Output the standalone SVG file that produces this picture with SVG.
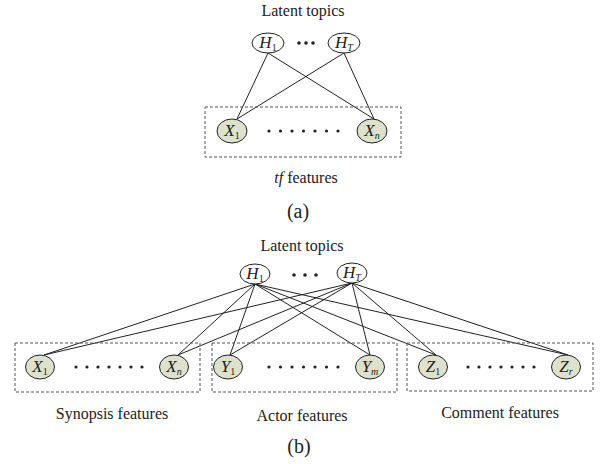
<svg xmlns="http://www.w3.org/2000/svg" width="602" height="464" viewBox="0 0 602 464">
<style>
text{font-family:"Liberation Serif","Times New Roman",serif;fill:#222;}
.lbl{font-size:16px;text-anchor:middle;}
.cap{font-size:20px;text-anchor:middle;}
.nl{font-size:17px;text-anchor:middle;}
.it{font-style:italic;}
.sub{font-size:10px;}
.hid{fill:#fff;stroke:#222;stroke-width:1;}
.obs{fill:#dee2cd;stroke:#222;stroke-width:1;}
.box{fill:none;stroke:#555;stroke-width:1;stroke-dasharray:3 2;}
.edge line{stroke:#222;stroke-width:1;}
.dot{fill:#222;}
</style>
<rect width="602" height="464" fill="#fff"/>

<!-- (a) -->
<text class="lbl" x="303" y="16">Latent topics</text>
<g id="edges-a" class="edge">
<line x1="268" y1="53" x2="237" y2="119"/>
<line x1="268" y1="53" x2="374" y2="119"/>
<line x1="344" y1="53" x2="237" y2="119"/>
<line x1="344" y1="53" x2="374" y2="119"/>
</g>
<g id="a-H1"><ellipse class="hid" cx="268" cy="43" rx="16" ry="10"/><text class="nl" x="268" y="48"><tspan class="it">H</tspan><tspan class="sub" dy="3">1</tspan></text></g>
<g id="a-HT"><ellipse class="hid" cx="344" cy="43" rx="16" ry="10"/><text class="nl" x="344" y="48"><tspan class="it">H</tspan><tspan class="sub it" dy="3">T</tspan></text></g>
<g id="a-hdots" class="dot"><circle cx="299" cy="43" r="1.8"/><circle cx="306" cy="43" r="1.8"/><circle cx="313" cy="43" r="1.8"/></g>
<g id="a-tf">
<rect class="box" x="205" y="107" width="196" height="50"/>
<g id="a-X1"><ellipse class="obs" cx="232" cy="131" rx="15" ry="12"/><text class="nl" x="232" y="136"><tspan class="it">X</tspan><tspan class="sub" dy="3">1</tspan></text></g>
<g id="a-Xn"><ellipse class="obs" cx="372" cy="131" rx="15" ry="12"/><text class="nl" x="372" y="136"><tspan class="it">X</tspan><tspan class="sub it" dy="3">n</tspan></text></g>
<g class="dot"><circle cx="269" cy="131" r="1.6"/><circle cx="280.5" cy="131" r="1.6"/><circle cx="292" cy="131" r="1.6"/><circle cx="303.5" cy="131" r="1.6"/><circle cx="315" cy="131" r="1.6"/><circle cx="326.5" cy="131" r="1.6"/><circle cx="338" cy="131" r="1.6"/></g>
</g>
<text class="lbl" x="306" y="183"><tspan class="it">tf</tspan> features</text>
<text class="cap" x="298" y="218">(a)</text>

<!-- (b) -->
<text class="lbl" x="302" y="251">Latent topics</text>
<g id="edges-b" class="edge">
<line x1="255" y1="284" x2="44" y2="355"/>
<line x1="255" y1="284" x2="178" y2="355"/>
<line x1="255" y1="284" x2="230" y2="355"/>
<line x1="255" y1="284" x2="370" y2="355"/>
<line x1="255" y1="284" x2="436" y2="355"/>
<line x1="255" y1="284" x2="568" y2="355"/>
<line x1="352" y1="283" x2="44" y2="355"/>
<line x1="352" y1="283" x2="178" y2="355"/>
<line x1="352" y1="283" x2="230" y2="355"/>
<line x1="352" y1="283" x2="370" y2="355"/>
<line x1="352" y1="283" x2="436" y2="355"/>
<line x1="352" y1="283" x2="568" y2="355"/>
</g>
<g id="b-H1"><ellipse class="hid" cx="255" cy="274" rx="15" ry="10"/><text class="nl" x="255" y="279"><tspan class="it">H</tspan><tspan class="sub" dy="3">1</tspan></text></g>
<g id="b-HT"><ellipse class="hid" cx="352" cy="273" rx="15" ry="10"/><text class="nl" x="352" y="278"><tspan class="it">H</tspan><tspan class="sub it" dy="3">T</tspan></text></g>
<g id="b-hdots" class="dot"><circle cx="294" cy="275" r="1.8"/><circle cx="305" cy="275" r="1.8"/><circle cx="316" cy="275" r="1.8"/></g>

<g id="b-synopsis">
<rect class="box" x="15" y="343" width="185" height="49"/>
<g id="b-X1"><ellipse class="obs" cx="40" cy="367" rx="14.5" ry="12"/><text class="nl" x="40" y="372"><tspan class="it">X</tspan><tspan class="sub" dy="3">1</tspan></text></g>
<g id="b-Xn"><ellipse class="obs" cx="174" cy="367" rx="14.5" ry="12"/><text class="nl" x="174" y="372"><tspan class="it">X</tspan><tspan class="sub it" dy="3">n</tspan></text></g>
<g class="dot"><circle cx="76" cy="367" r="1.6"/><circle cx="87" cy="367" r="1.6"/><circle cx="98" cy="367" r="1.6"/><circle cx="109" cy="367" r="1.6"/><circle cx="120" cy="367" r="1.6"/><circle cx="131" cy="367" r="1.6"/><circle cx="142" cy="367" r="1.6"/></g>
</g>
<g id="b-actor">
<rect class="box" x="212" y="343" width="185" height="49"/>
<g id="b-Y1"><ellipse class="obs" cx="228" cy="367" rx="14.5" ry="12"/><text class="nl" x="228" y="372"><tspan class="it">Y</tspan><tspan class="sub" dy="3">1</tspan></text></g>
<g id="b-Ym"><ellipse class="obs" cx="370" cy="367" rx="14.5" ry="12"/><text class="nl" x="370" y="372"><tspan class="it">Y</tspan><tspan class="sub it" dy="3">m</tspan></text></g>
<g class="dot"><circle cx="269" cy="367" r="1.6"/><circle cx="280.5" cy="367" r="1.6"/><circle cx="292" cy="367" r="1.6"/><circle cx="303.5" cy="367" r="1.6"/><circle cx="315" cy="367" r="1.6"/><circle cx="326.5" cy="367" r="1.6"/><circle cx="338" cy="367" r="1.6"/></g>
</g>
<g id="b-comment">
<rect class="box" x="407" y="343" width="186" height="48"/>
<g id="b-Z1"><ellipse class="obs" cx="433" cy="367" rx="14.5" ry="12"/><text class="nl" x="433" y="372"><tspan class="it">Z</tspan><tspan class="sub" dy="3">1</tspan></text></g>
<g id="b-Zr"><ellipse class="obs" cx="566" cy="367" rx="14.5" ry="12"/><text class="nl" x="566" y="372"><tspan class="it">Z</tspan><tspan class="sub it" dy="3">r</tspan></text></g>
<g class="dot"><circle cx="468" cy="367" r="1.6"/><circle cx="479" cy="367" r="1.6"/><circle cx="490" cy="367" r="1.6"/><circle cx="501" cy="367" r="1.6"/><circle cx="512" cy="367" r="1.6"/><circle cx="523" cy="367" r="1.6"/><circle cx="534" cy="367" r="1.6"/></g>
</g>
<text class="lbl" x="112" y="419">Synopsis features</text>
<text class="lbl" x="302" y="421">Actor features</text>
<text class="lbl" x="500" y="418">Comment features</text>
<text class="cap" x="299" y="453">(b)</text>
</svg>
